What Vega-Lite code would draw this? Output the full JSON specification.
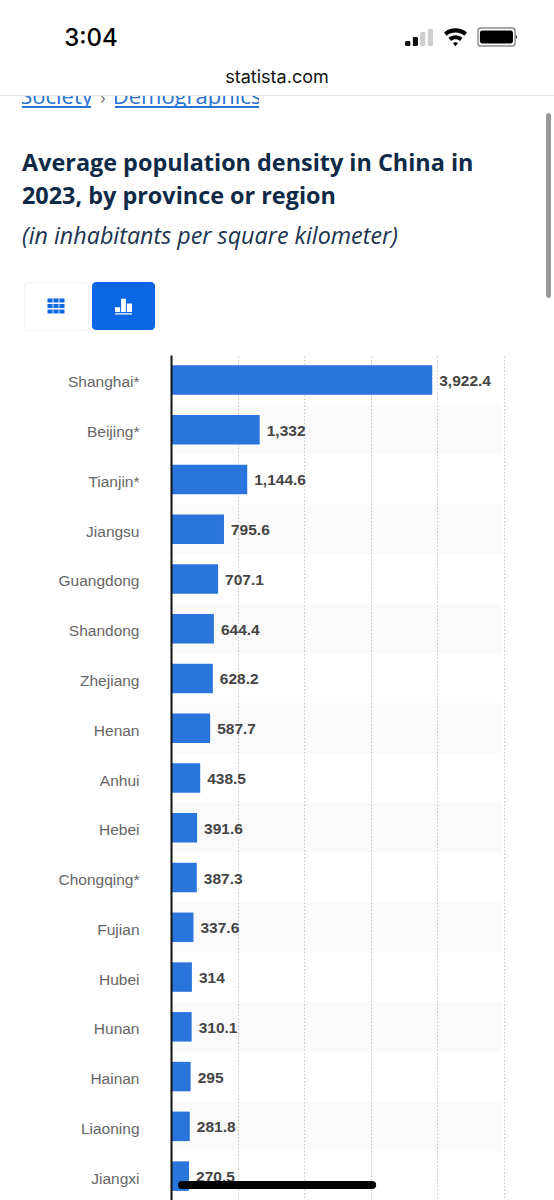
{
"$schema":"https://vega.github.io/schema/vega-lite/v6.json",
"padding":0,
"background":"white",
"config":{"view":{"stroke":null},"concat":{"spacing":0},"font":"Liberation Sans"},
"spacing":0,
"vconcat":[
{"width":554,"height":8,"data":{"values":[]},"mark":"point","encoding":{}},
{"spacing":0,"bounds":"flush","hconcat":[
 {"width":65,"height":58,"data":{"values":[]},"mark":"point","encoding":{}},
 {"width":52,"height":58,"data":{"values":[{"t":"3:04"}]},"mark":{"type":"text","font":"Inter","fontSize":24,"fontWeight":500,"color":"#000","baseline":"middle","align":"center","dy":2},"encoding":{"text":{"field":"t"}}},
 {"width":288,"height":58,"data":{"values":[]},"mark":"point","encoding":{}},
 {"width":28,"height":58,"data":{"values":[{"level":1,"h":5,"s":"on"},{"level":2,"h":9,"s":"on"},{"level":3,"h":14,"s":"off"},{"level":4,"h":17,"s":"off"}]},"mark":{"type":"bar","cornerRadius":1.5},"encoding":{"x":{"field":"level","type":"ordinal","axis":null,"scale":{"paddingInner":0.25,"paddingOuter":0}},"y":{"field":"h","type":"quantitative","axis":null,"scale":{"domain":[-20,38]}},"color":{"field":"s","type":"nominal","legend":null,"scale":{"domain":["on","off"],"range":["#111111","#cfcfcf"]}}}},
 {"width":11,"height":58,"data":{"values":[]},"mark":"point","encoding":{}},
 {"width":23,"height":58,"data":{"values":[{"icon":"wifi"}]},"mark":{"type":"point","filled":true,"fill":"#000","opacity":1,"size":529,"strokeWidth":0,"shape":"M-1,-.387A1.55,1.55 0 0 1 1,-.387L.77,-.119A1.2,1.2 0 0 0 -.77,-.119ZM-.61,.072A.95,.95 0 0 1 .61,.072L.386,.34A.6,.6 0 0 0 -.386,.34ZM-.225,.532A.35,.35 0 0 1 .225,.532L0,.8Z"},"encoding":{}},
 {"width":11,"height":58,"data":{"values":[]},"mark":"point","encoding":{}},
 {"width":38,"height":58,"data":{"values":[{"icon":"battery"}]},"layer":[
  {"mark":{"type":"point","filled":false,"stroke":"#8a8a8a","opacity":1,"size":1444,"strokeWidth":1.4,"shape":"M-.9,-.47H.8Q.95,-.47 .95,-.3V.3Q.95,.47 .8,.47H-.9Q-1,.47 -1,.3V-.3Q-1,-.47 -.9,-.47Z"},"encoding":{}},
  {"mark":{"type":"point","filled":true,"fill":"#000","opacity":1,"size":1444,"strokeWidth":0,"shape":"M-.8,-.34H.72Q.84,-.34 .84,-.2V.2Q.84,.34 .72,.34H-.8Q-.9,.34 -.9,.2V-.2Q-.9,-.34 -.8,-.34ZM.99,-.12Q1.04,-.1 1.04,0Q1.04,.1 .99,.12Z"},"encoding":{}}
 ]}
]},
{"width":554,"height":22,"data":{"values":[{"t":"statista.com"}]},"mark":{"type":"text","font":"Inter","fontSize":18,"color":"#111","baseline":"middle","align":"center","dy":1},"encoding":{"text":{"field":"t"}}},
{"width":554,"height":7,"data":{"values":[]},"mark":"point","encoding":{}},
{"width":554,"height":1,"view":{"fill":"#e4e4e4","stroke":null},"data":{"values":[]},"mark":"point","encoding":{}},
{"spacing":0,"bounds":"flush","hconcat":[
 {"width":22,"height":10,"data":{"values":[]},"mark":"point","encoding":{}},
 {"width":69,"height":10,"data":{"values":[{"t":"Society"}]},"mark":{"type":"text","font":"Open Sans","fontSize":22,"color":"#2a72d4","clip":true,"baseline":"alphabetic","dy":3,"align":"center"},"encoding":{"text":{"field":"t"}}},
 {"width":24,"height":10,"data":{"values":[{"t":"›"}]},"mark":{"type":"text","font":"Open Sans","fontSize":18,"color":"#777","clip":true,"baseline":"alphabetic","dy":3,"align":"center"},"encoding":{"text":{"field":"t"}}},
 {"width":144,"height":10,"data":{"values":[{"t":"Demographics"}]},"mark":{"type":"text","font":"Open Sans","fontSize":22,"color":"#2a72d4","clip":true,"baseline":"alphabetic","dy":3,"align":"center"},"encoding":{"text":{"field":"t"}}}
]},
{"spacing":0,"bounds":"flush","hconcat":[
 {"width":22,"height":2,"data":{"values":[]},"mark":"point","encoding":{}},
 {"width":69,"height":2,"view":{"fill":"#2a72d4","stroke":null},"data":{"values":[]},"mark":"point","encoding":{}},
 {"width":24,"height":2,"data":{"values":[]},"mark":"point","encoding":{}},
 {"width":144,"height":2,"view":{"fill":"#2a72d4","stroke":null},"data":{"values":[]},"mark":"point","encoding":{}}
]},
{"spacing":0,"hconcat":[
 {"spacing":0,"vconcat":[
  {"width":546,"height":38,"data":{"values":[]},"mark":"point","encoding":{}},
  {"width":44,"height":33,"data":{"values":[{"t":"Average population density in China in"}]},"mark":{"type":"text","font":"Open Sans","fontSize":23.4,"fontWeight":700,"color":"#0e2a47","baseline":"middle","align":"left","dy":1},"encoding":{"text":{"field":"t"}}},
  {"width":44,"height":33,"data":{"values":[{"t":"2023, by province or region"}]},"mark":{"type":"text","font":"Open Sans","fontSize":23.4,"fontWeight":700,"color":"#0e2a47","baseline":"middle","align":"left","dy":1},"encoding":{"text":{"field":"t"}}},
  {"width":44,"height":6,"data":{"values":[]},"mark":"point","encoding":{}},
  {"width":44,"height":34,"data":{"values":[{"t":"(in inhabitants per square kilometer)"}]},"mark":{"type":"text","font":"Open Sans","fontSize":23.3,"fontStyle":"italic","color":"#1a3350","baseline":"middle","align":"left","dy":2},"encoding":{"text":{"field":"t"}}},
  {"width":44,"height":29,"data":{"values":[]},"mark":"point","encoding":{}},
  {"spacing":0,"bounds":"flush","hconcat":[
   {"width":24,"height":48,"data":{"values":[]},"mark":"point","encoding":{}},
   {"width":64,"height":48,"view":{"fill":"#ffffff","stroke":"#f1f1f1","cornerRadius":4},"data":{"values":[{"icon":"table"}]},"mark":{"type":"point","filled":true,"fill":"#0b66e4","opacity":1,"size":289,"strokeWidth":0,"shape":"M-1,-.88h.6v.48h-.6zM-.3,-.88h.6v.48h-.6zM.4,-.88h.6v.48h-.6zM-1,-.24h.6v.48h-.6zM-.3,-.24h.6v.48h-.6zM.4,-.24h.6v.48h-.6zM-1,.4h.6v.48h-.6zM-.3,.4h.6v.48h-.6zM.4,.4h.6v.48h-.6z"},"encoding":{}},
   {"width":4,"height":48,"data":{"values":[]},"mark":"point","encoding":{}},
   {"width":63,"height":48,"view":{"fill":"#0b66e4","stroke":null,"cornerRadius":4},"data":{"values":[{"icon":"chart"}]},"mark":{"type":"point","filled":true,"fill":"#ffffff","opacity":1,"size":289,"strokeWidth":0,"shape":"M-1,.15h.6v.55h-.6zM-.28,-.85h.56v1.55h-.56zM.4,-.3h.6v1h-.6zM-1,.85h2v.15h-2z"},"encoding":{}}
  ]},
  {"width":44,"height":24,"data":{"values":[]},"mark":"point","encoding":{}}
 ]},
 {"spacing":0,"vconcat":[
  {"width":5,"height":5,"data":{"values":[]},"mark":"point","encoding":{}},
  {"width":5,"height":185,"view":{"fill":"#999999","stroke":null,"cornerRadius":2.5},"data":{"values":[]},"mark":"point","encoding":{}}
 ]}
]},
{"spacing":0,"bounds":"flush","hconcat":[
 {"width":171,"height":846,"data":{"values":[]},"mark":"point","encoding":{}},
 {"width":333,"height":846,
  "data":{"values":[
   {"region":"Shanghai*","value":3922.4,"band":"plain"},
   {"region":"Beijing*","value":1332,"band":"shaded"},
   {"region":"Tianjin*","value":1144.6,"band":"plain"},
   {"region":"Jiangsu","value":795.6,"band":"shaded"},
   {"region":"Guangdong","value":707.1,"band":"plain"},
   {"region":"Shandong","value":644.4,"band":"shaded"},
   {"region":"Zhejiang","value":628.2,"band":"plain"},
   {"region":"Henan","value":587.7,"band":"shaded"},
   {"region":"Anhui","value":438.5,"band":"plain"},
   {"region":"Hebei","value":391.6,"band":"shaded"},
   {"region":"Chongqing*","value":387.3,"band":"plain"},
   {"region":"Fujian","value":337.6,"band":"shaded"},
   {"region":"Hubei","value":314,"band":"plain"},
   {"region":"Hunan","value":310.1,"band":"shaded"},
   {"region":"Hainan","value":295,"band":"plain"},
   {"region":"Liaoning","value":281.8,"band":"shaded"},
   {"region":"Jiangxi","value":270.5,"band":"plain"}
  ]},
  "encoding":{
   "y":{"field":"region","type":"nominal","title":null,"scale":{"domain":["Shanghai*","Beijing*","Tianjin*","Jiangsu","Guangdong","Shandong","Zhejiang","Henan","Anhui","Hebei","Chongqing*","Fujian","Hubei","Hunan","Hainan","Liaoning","Jiangxi"],"paddingInner":0,"paddingOuter":0},
    "axis":{"ticks":false,"labelPadding":32,"labelFontSize":15.5,"labelOffset":2.5,"labelColor":"#666666","labelFont":"Liberation Sans","labelLimit":140,"domainColor":"#111111","domainWidth":2,"grid":false,"zindex":1}}
  },
  "layer":[
   {"transform":[{"filter":"datum.band === 'shaded'"}],
    "mark":{"type":"rect","fill":"#000000","opacity":0.02},
    "encoding":{"x":{"datum":0,"type":"quantitative","scale":{"domain":[0,5000]},"axis":{"values":[1000,2000,3000,4000,5000],"labels":false,"ticks":false,"domain":false,"title":null,"grid":true,"gridColor":"#c8c8c8","gridDash":[1.5,2],"gridWidth":1}},"x2":{"datum":4970}}},
   {"mark":{"type":"bar","size":29.5,"color":"#2a75dc"},
    "encoding":{"x":{"field":"value","type":"quantitative"}}},
   {"mark":{"type":"text","align":"left","baseline":"middle","dx":7,"dy":1,"font":"Liberation Sans","fontSize":15.5,"fontWeight":"bold","color":"#444444"},
    "encoding":{"x":{"field":"value","type":"quantitative"},"text":{"field":"value","type":"quantitative","format":",~f"}}},
   {"data":{"values":[{"region":"Jiangxi"}]},
    "mark":{"type":"rule","color":"#000000","strokeWidth":8,"strokeCap":"round"},
    "encoding":{"x":{"datum":165},"x2":{"datum":3020},"y":{"field":"region","type":"nominal","bandPosition":0.68}}}
  ]}
]}
]}
